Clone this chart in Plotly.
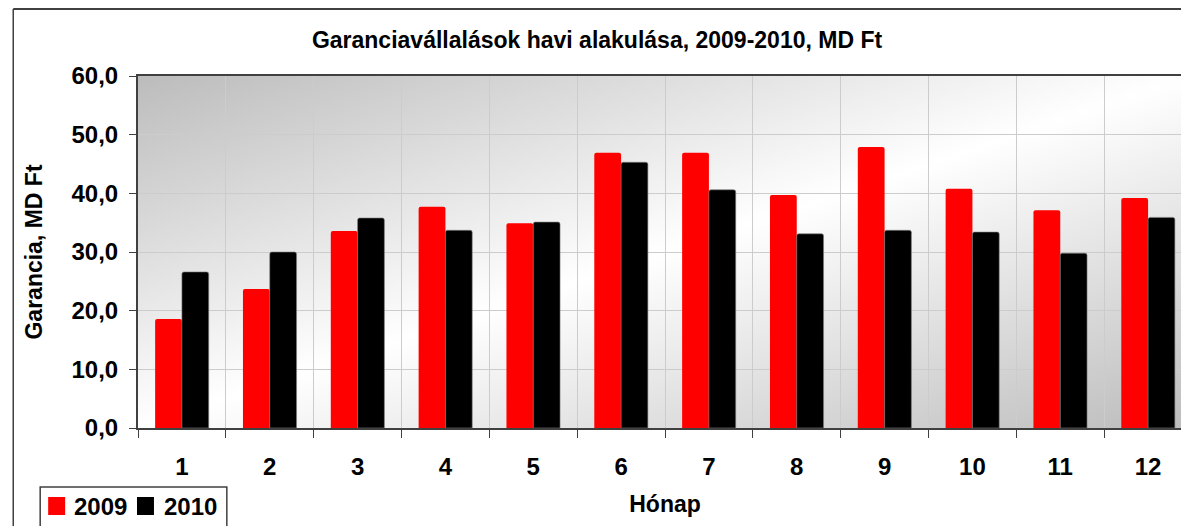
import base64
import plotly.graph_objects as go

months = ["1", "2", "3", "4", "5", "6", "7", "8", "9", "10", "11", "12"]
val_2009 = [18.6, 23.7, 33.6, 37.7, 34.9, 46.9, 46.9, 39.7, 47.9, 40.8, 37.1, 39.2]
val_2010 = [26.6, 30.0, 35.8, 33.7, 35.1, 45.3, 40.6, 33.1, 33.7, 33.4, 29.8, 35.9]
series_names = ["2009", "2010"]
series_colors = ["#ff0000", "#000000"]

FONT = "Liberation Sans, Arial, sans-serif"
W, H = 1189, 526

# plot area in figure pixels (the page adds an 8px body margin)
plot_l, plot_r, plot_t, plot_b = 130, 1186, 68, 420
pw, ph = plot_r - plot_l, plot_b - plot_t


def px(x):
    return (x - plot_l) / pw


def py(y):
    return (plot_b - y) / ph


# diagonal grey-white-grey gradient for the plot background
svg = (
    '<svg xmlns="http://www.w3.org/2000/svg" width="100" height="100" preserveAspectRatio="none">'
    '<defs><linearGradient id="g" x1="0" y1="0" x2="1" y2="1">'
    '<stop offset="0" stop-color="#bcbcbc"/><stop offset="0.5" stop-color="#ffffff"/>'
    '<stop offset="1" stop-color="#bcbcbc"/></linearGradient></defs>'
    '<rect width="100" height="100" fill="url(#g)"/></svg>'
)
bg_src = "data:image/svg+xml;base64," + base64.b64encode(svg.encode()).decode()

fig = go.Figure()
fig.add_trace(go.Bar(x=list(range(12)), y=val_2009, name=series_names[0], showlegend=False,
                     marker=dict(color=series_colors[0], cornerradius=2, line=dict(width=0))))
fig.add_trace(go.Bar(x=list(range(12)), y=val_2010, name=series_names[1], showlegend=False,
                     marker=dict(color=series_colors[1], cornerradius=2,
                                 line=dict(width=0.6, color="#808080"))))

fig.add_layout_image(dict(source=bg_src, xref="paper", yref="paper", x=0, y=1,
                          sizex=1, sizey=1, xanchor="left", yanchor="top",
                          sizing="stretch", layer="below"))

# outer chart frame (cut off at right and bottom)
fig.add_shape(type="line", xref="paper", yref="paper", x0=px(5), x1=px(1200), y0=py(1), y1=py(1),
              line=dict(color="#404040", width=2))
fig.add_shape(type="line", xref="paper", yref="paper", x0=px(5), x1=px(5), y0=py(1), y1=py(540),
              line=dict(color="#404040", width=1.5))

# legend box drawn by hand so the keys can be big squares
fig.add_shape(type="rect", xref="paper", yref="paper", x0=px(32), x1=px(219), y0=py(479), y1=py(540),
              line=dict(color="#404040", width=1.5), fillcolor="white")
key_x = [40, 129]
text_x = [64, 154]
for name, color, kx, tx in zip(series_names, series_colors, key_x, text_x):
    fig.add_shape(type="rect", xref="paper", yref="paper", x0=px(kx), x1=px(kx + 17),
                  y0=py(489), y1=py(507), line=dict(width=0), fillcolor=color)
    fig.add_annotation(xref="paper", yref="paper", x=px(tx), y=py(498), xanchor="left",
                       yanchor="middle", showarrow=False, text="<b>%s</b>" % name,
                       font=dict(size=24))

fig.update_layout(
    width=W, height=H,
    margin=dict(l=plot_l, r=W - plot_r, t=plot_t, b=H - plot_b),
    paper_bgcolor="white", plot_bgcolor="rgba(0,0,0,0)",
    separators=", ",
    barmode="group", bargap=0.39, bargroupgap=0,
    font=dict(family=FONT, color="black"),
    showlegend=False,
    title=dict(text="<b>Garanciavállalások havi alakulása, 2009-2010, MD Ft</b>",
               x=589 / W, xanchor="center", y=1 - 32 / H, yanchor="middle",
               font=dict(size=23)),
    xaxis=dict(tickmode="array", tickvals=list(range(12)),
               ticktext=["<b>%s</b>" % m for m in months],
               range=[-0.5, 11.5], showgrid=False,
               tickfont=dict(size=24), ticks="", ticklabelstandoff=16,
               showline=True, mirror=True, linecolor="#404040", linewidth=2,
               title=dict(text="<b>Hónap</b>", font=dict(size=23), standoff=17)),
    yaxis=dict(range=[0, 60], dtick=10, tickformat=".1f", tickprefix="<b>", ticksuffix="</b>",
               gridcolor="#cccccc", gridwidth=1, zeroline=False,
               showline=True, mirror=True, linecolor="#404040", linewidth=2,
               ticks="outside", ticklen=7, tickcolor="#404040", ticklabelstandoff=6,
               tickfont=dict(size=24),
               title=dict(text="<b>Garancia, MD Ft</b>", font=dict(size=23), standoff=22)),
)

# vertical separators between months and x tick marks
fig.update_xaxes(minor=dict(tickmode="array", tickvals=[i - 0.5 for i in range(13)],
                            showgrid=True, gridcolor="#cccccc", gridwidth=1,
                            ticks="outside", ticklen=8, tickcolor="#404040"))

fig.write_html("out.html")
